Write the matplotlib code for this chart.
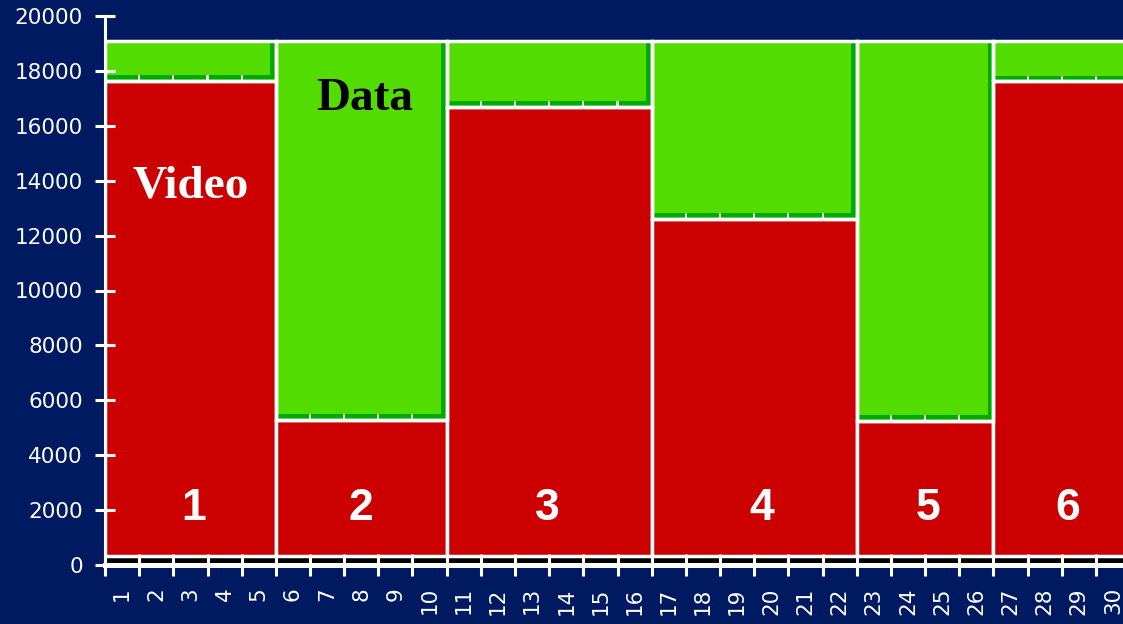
import numpy as np
import matplotlib.pyplot as plt

# per-group values (stacked: overhead strip, video, data)
group_sizes = [5, 5, 6, 6, 4, 4]
group_names = ["1", "2", "3", "4", "5", "6"]
overhead = [330, 330, 330, 330, 330, 330]
video = [17320, 4970, 16370, 12290, 4920, 17300]
data = [1450, 13800, 2400, 6480, 13850, 1470]
name_x = [2.08, 6.99, 12.44, 18.73, 23.6, 27.68]

categories = [str(i) for i in range(1, 31)]
yticks = list(range(0, 20001, 2000))

bg = "#001a62"
red = "#cc0000"
green = "#52dc00"
dkgreen = "#00aa00"

fig = plt.figure(figsize=(11.23, 6.24), dpi=100, facecolor=bg)
ax = fig.add_axes([105 / 1123, 59 / 624, 1025 / 1123, 549 / 624])
ax.set_facecolor(bg)

x = np.arange(len(categories))
ov = np.repeat(overhead, group_sizes)
vid = np.repeat(video, group_sizes)
dat = np.repeat(data, group_sizes)

# single category bars: black strip and the data segment with its shadow
ax.bar(x, ov, width=1.0, color="black", edgecolor="black", linewidth=0.5,
       zorder=1)
ax.bar(x, dat, bottom=ov + vid, width=1.0, color=dkgreen,
       edgecolor="white", linewidth=1.2, zorder=1)

# merged blocks for each group
starts = np.cumsum([0] + group_sizes[:-1])
sizes = np.array(group_sizes)
centers = starts - 0.5 + sizes / 2
ov_g = np.array(overhead)
vid_g = np.array(video)
dat_g = np.array(data)

ax.bar(centers, vid_g, bottom=ov_g, width=sizes, color=red,
       edgecolor="white", linewidth=2.5, zorder=1.2)
ax.bar(centers - 0.06, dat_g - 200, bottom=ov_g + vid_g + 200,
       width=sizes - 0.2, color=green, linewidth=0, zorder=1.1)
ax.bar(centers, dat_g, bottom=ov_g + vid_g, width=sizes, fill=False,
       edgecolor="white", linewidth=2.5, zorder=1.2)

# labels inside the bars
for name, nx in zip(group_names, name_x):
    ax.text(nx, 1640, name, color="white", fontsize=32, fontweight="bold",
            family="Liberation Sans", ha="center", va="baseline", zorder=3)
ax.text(2.0, 13400, "Video", color="white", fontsize=34, fontweight="bold",
        family="Liberation Serif", ha="center", va="baseline", zorder=3)
ax.text(7.1, 16575, "Data", color="black", fontsize=34, fontweight="bold",
        family="Liberation Serif", ha="center", va="baseline", zorder=3)

# axes
ax.set_xlim(-0.5, 29.5)
ax.set_ylim(0, 20000)
ax.set_axisbelow(False)
for s in ["top", "right"]:
    ax.spines[s].set_visible(False)
ax.spines["left"].set_color("white")
ax.spines["left"].set_linewidth(2.2)
ax.spines["left"].set_bounds(0, 20000)
ax.spines["bottom"].set_color("white")
ax.spines["bottom"].set_linewidth(3.6)

ax.set_yticks(yticks)
ax.set_yticklabels([str(v) for v in yticks])
ax.tick_params(axis="y", colors="white", direction="inout", length=14,
               width=2.2, pad=9, labelsize=15.5)

ax.set_xticks(x)
ax.set_xticklabels(categories, rotation=90, va="top", ha="center")
ax.tick_params(axis="x", which="major", length=0, pad=16, colors="white",
               labelsize=15.5)
ax.set_xticks(np.arange(-0.5, 30, 1.0), minor=True)
ax.tick_params(axis="x", which="minor", direction="inout", length=16,
               width=2.2, color="white")

fig.savefig("out.png", dpi=100, facecolor=bg)
